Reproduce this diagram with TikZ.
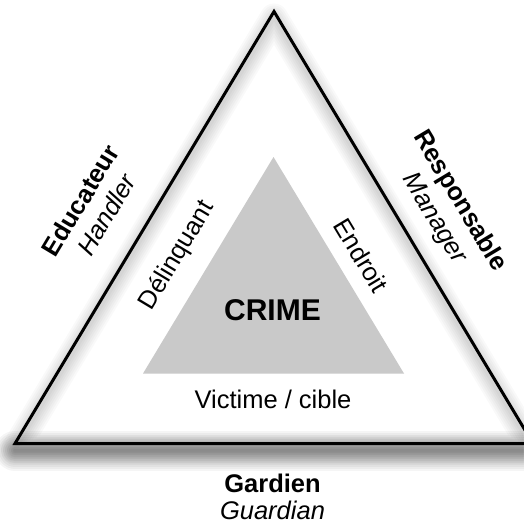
\documentclass[tikz,border=0pt]{standalone}
\usepackage{fontspec}
\setmainfont{Liberation Sans}
\definecolor{crimegray}{RGB}{201,201,201}
\begin{document}
\begin{tikzpicture}[x=1pt,y=-1pt,
  lbl/.style={inner sep=0pt, font=\fontsize{25.5}{30}\selectfont},
  role/.style={lbl, font=\fontsize{25.5}{30}\selectfont\bfseries},
  roleen/.style={lbl, font=\fontsize{25.5}{30}\selectfont\itshape},
  crimelbl/.style={lbl, font=\fontsize{30}{36}\selectfont\bfseries},
]
\useasboundingbox (0,0) rectangle (523,524);
\fill[white] (0,0) rectangle (523,524);

% outer triangle corners
\coordinate (A) at (274,11.5);
\coordinate (B) at (15,443.5);
\coordinate (C) at (533,443.5);

% faint soft halo along the whole outline
\foreach \w in {4,8,...,28}
  \draw[line width=\w pt, black, opacity=0.022, line join=round]
    ([yshift=-6pt]A) -- ([yshift=-6pt]B) -- ([yshift=-6pt]C) -- cycle;
% deeper soft shadow below the base
\foreach \w in {4,8,...,40}
  \draw[line width=\w pt, black, opacity=0.04, line cap=round]
    ([yshift=-7pt]B) -- ([yshift=-7pt]C);

% outline
\draw[line width=3pt] (A) -- (B) -- (C) -- cycle;

% inner crime triangle
\coordinate (D) at (273.5,157);
\coordinate (E) at (143,373.5);
\coordinate (F) at (404,373.5);
\fill[crimegray] (D) -- (E) -- (F) -- cycle;

% labels
\node[role, rotate=59, anchor=base] (educ) at (88,205) {Educateur};
\node[roleen, rotate=59, anchor=base] (handler) at (114,219) {Handler};
\node[lbl, rotate=59, anchor=base] (delinq) at (183,259) {Délinquant};
\node[role, rotate=-59, anchor=base] (resp) at (454,205) {Responsable};
\node[roleen, rotate=-59, anchor=base] (manager) at (428.5,222) {Manager};
\node[lbl, rotate=-59, anchor=base] (endroit) at (353.5,260) {Endroit};
\node[crimelbl, anchor=base] (crime) at (272.5,320) {CRIME};
\node[lbl, anchor=base] (victime) at (273,408) {Victime / cible};
\node[role, anchor=base] (gardien) at (272.5,492) {Gardien};
\node[roleen, anchor=base] (guardian) at (272.5,519) {Guardian};
\end{tikzpicture}
\end{document}
